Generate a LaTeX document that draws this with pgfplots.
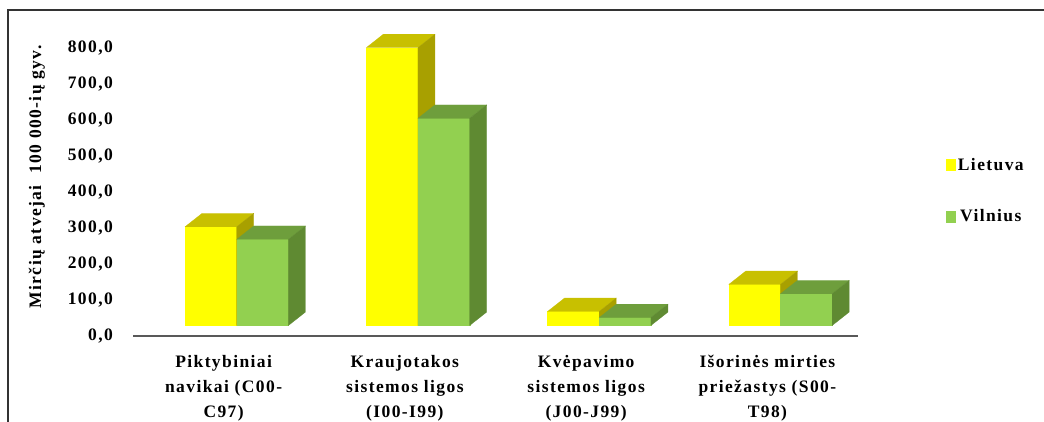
\documentclass[border=0pt]{standalone}
\usepackage{fontspec}
\setmainfont{Liberation Serif}[LetterSpace=8]
\usepackage{pgfplots}
\usepackage{pgfplotstable}
\pgfplotsset{compat=1.18}

\definecolor{yfront}{RGB}{255,255,0}
\definecolor{ytop}{RGB}{200,192,0}
\definecolor{yside}{RGB}{168,160,0}
\definecolor{gfront}{RGB}{146,208,80}
\definecolor{gtop}{RGB}{110,158,60}
\definecolor{gside}{RGB}{95,138,50}

\pgfplotstableread{
idx L V
0 274 239
1 771 575
2 39 22
3 114 88
}\datatable

\newcommand\bw{0.2852}
\newcommand\ddx{0.0938}
\newcommand\ddy{37.2}
\newcommand\ybase{29.1}
\newcommand\lblfont{\fontsize{17.5}{25}\selectfont\bfseries}

\newcommand{\barbox}[5]{%
  \pgfmathsetmacro\xa{#1}%
  \pgfmathsetmacro\xb{#1+\bw}%
  \pgfmathsetmacro\xc{#1+\ddx}%
  \pgfmathsetmacro\xd{#1+\bw+\ddx}%
  \pgfmathsetmacro\ya{\ybase}%
  \pgfmathsetmacro\yab{\ybase+\ddy}%
  \pgfmathsetmacro\yt{#2+\ybase}%
  \pgfmathsetmacro\ytt{#2+\ybase+\ddy}%
  \addplot[fill=#3, draw=#3, line width=0.2pt, forget plot] coordinates {(\xa,\ya) (\xb,\ya) (\xb,\yt) (\xa,\yt)} -- cycle;
  \addplot[fill=#4, draw=#4, line width=0.2pt, forget plot] coordinates {(\xa,\yt) (\xb,\yt) (\xd,\ytt) (\xc,\ytt)} -- cycle;
  \addplot[fill=#5, draw=#5, line width=0.2pt, forget plot] coordinates {(\xb,\ya) (\xd,\yab) (\xd,\ytt) (\xb,\yt)} -- cycle;
}

\begin{document}
\begin{tikzpicture}[x=1pt,y=1pt]
\useasboundingbox (0,0) rectangle (1044,421);
\draw[line width=2pt, black!80] (8,-10) -- (8,411) -- (1060,411);
\begin{axis}[
  at={(133pt,85pt)}, anchor=south west,
  scale only axis, width=725pt, height=306.34pt,
  xmin=-0.5, xmax=3.5, ymin=0, ymax=850,
  clip=false,
  axis x line=bottom, axis y line=left,
  x axis line style={-, draw=black!65, line width=2pt},
  y axis line style={draw=none},
  major tick length=0pt,
  xtick={0,1,2,3},
  xticklabels={{Piktybiniai\\navikai (C00-\\C97)},{Kraujotakos\\sistemos ligos\\(I00-I99)},{Kvėpavimo\\sistemos ligos\\(J00-J99)},{Išorinės mirties\\priežastys (S00-\\T98)}},
  xticklabel style={align=center, anchor=north, inner sep=0pt, yshift=-19pt, font=\lblfont},
  ytick={0,100,...,800},
  yticklabel style={anchor=east, inner sep=0pt, xshift=-20pt, font=\lblfont},
  /pgf/number format/.cd, fixed, fixed zerofill, precision=1, use comma, 1000 sep={}, assume math mode=true,
  /pgfplots/.cd,
  ylabel={Mirčių atvejai \ 100 000-ių gyv.},
  every axis y label/.style={at={(rel axis cs:-0.1324,0.519)}, rotate=90, anchor=center, font=\lblfont},
  legend image code/.code={\fill[#1] (0pt,-6pt) rectangle (10pt,6pt);},
  legend style={at={(rel axis cs:1.121,0.588)}, anchor=north west, draw=none, fill=none, font=\lblfont, row sep=34pt, inner sep=0pt, nodes={inner sep=2pt}},
]
\pgfplotsinvokeforeach{0,1,2,3}{
  \pgfplotstablegetelem{#1}{L}\of\datatable
  \let\vL\pgfplotsretval
  \pgfplotstablegetelem{#1}{V}\of\datatable
  \let\vV\pgfplotsretval
  \barbox{#1-0.2129}{\vL}{yfront}{ytop}{yside}
  \barbox{#1+0.0723}{\vV}{gfront}{gtop}{gside}
}
\addlegendimage{fill=yfront, draw=none}
\addlegendentry{Lietuva}
\addlegendimage{fill=gfront, draw=none}
\addlegendentry{Vilnius}
\end{axis}
\end{tikzpicture}
\end{document}
